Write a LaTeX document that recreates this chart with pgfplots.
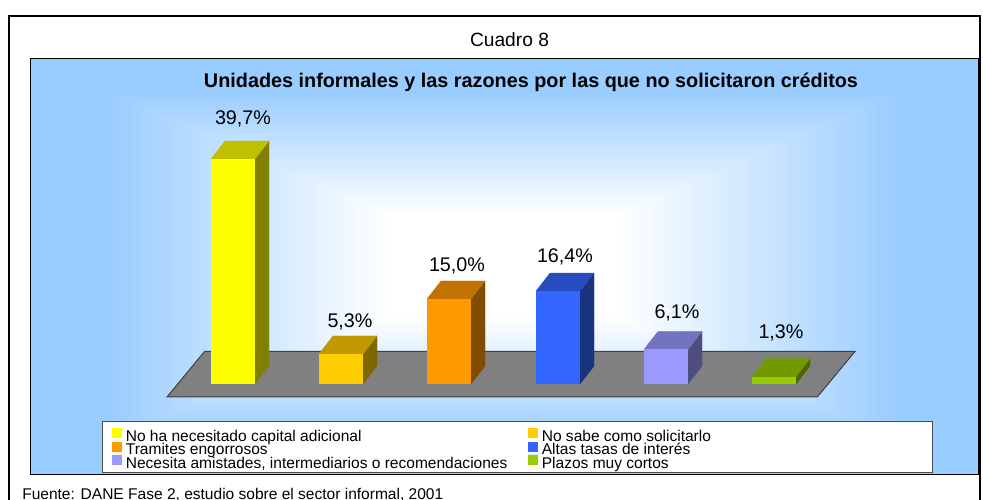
\documentclass[border=0pt]{standalone}
\usepackage{fontspec}
\setmainfont{Liberation Sans}
\usepackage{pgfplots}
\pgfplotsset{compat=1.18}
\definecolor{bg}{HTML}{99CCFF}
\definecolor{cA}{HTML}{FFFF00}\definecolor{cAt}{HTML}{C0C000}\definecolor{cAs}{HTML}{808000}
\definecolor{cB}{HTML}{FFCC00}\definecolor{cBt}{HTML}{C09900}\definecolor{cBs}{HTML}{806600}
\definecolor{cC}{HTML}{FF9900}\definecolor{cCt}{HTML}{C07300}\definecolor{cCs}{HTML}{804D00}
\definecolor{cD}{HTML}{3366FF}\definecolor{cDt}{HTML}{264CBF}\definecolor{cDs}{HTML}{1A3380}
\definecolor{cE}{HTML}{9999FF}\definecolor{cEt}{HTML}{7373BF}\definecolor{cEs}{HTML}{4D4D80}
\definecolor{cF}{HTML}{99CC00}\definecolor{cFt}{HTML}{739900}\definecolor{cFs}{HTML}{4D6600}
\pgfplotsset{
  mybar/.style={ybar,bar shift=0pt,bar width=33pt,fill=#1,draw=none,
    legend image code/.code={\fill[#1,overlay] (0pt,1.73pt) rectangle (7.5pt,9.23pt);\path (0pt,0pt) rectangle (10.5pt,0pt);}},
  face/.style={fill=#1,draw=#1,line width=0.2pt,forget plot}
}
\newcommand{\fs}[1]{\fontsize{#1}{#1}\selectfont}
\newcommand{\lent}[2]{\raisebox{-0.82pt}[0pt][0pt]{\makebox[#1][l]{#2}}}
\begin{document}
\begin{tikzpicture}
\path[clip,use as bounding box] (0,0) rectangle (737.25pt,375pt);
\begin{scope}[x=0.75pt,y=-0.75pt,yshift=375pt]
  \fill[white] (0,0) rectangle (983,500);
  \foreach \i in {0,...,70}{
    \pgfmathsetmacro\t{1-\i/70}
    \pgfmathsetmacro\b{max(0,min(100,100*(\t-0.25)/0.6))}
    \pgfmathsetmacro\hx{473.5*\t}
    \pgfmathsetmacro\hy{208.5*\t}
    \fill[bg!\b!white] (504-\hx,266.5-\hy) rectangle (504+\hx,266.5+\hy);
  }
\end{scope}
\begin{axis}[
  at={(0pt,0pt)},anchor=south west,
  scale only axis,width=737.25pt,height=375pt,
  xmin=0,xmax=983,ymin=-20.468,ymax=67.755,
  hide axis,
  legend columns=2,
  legend style={at={(axis cs:102,-6.53)},anchor=north west,
    draw=black!70,line width=0.75pt,fill=white,
    inner xsep=7pt,inner ysep=3.6pt,
    /tikz/column sep=0pt,/tikz/row sep=0pt,
    nodes={inner sep=0pt,text height=10.35pt,text depth=0pt,anchor=base west},
    font=\fs{11.65pt}},
  legend cell align=left,
]
% floor
\addplot[fill=black!50,draw=black!75,line width=0.75pt,forget plot] coordinates {(204.5,5.735)(855,5.735)(817.3,-2.294)(167,-2.294)} --cycle;
% depth faces
\addplot[face=cAs] coordinates {(255,0)(269,3.176)(269,42.876)(255,39.7)} --cycle;
\addplot[face=cAt] coordinates {(211,39.7)(225,42.876)(269,42.876)(255,39.7)} --cycle;
\addplot[mybar=cA] coordinates {(233,39.7)};
\addlegendentry{\lent{301.5pt}{No ha necesitado capital adicional}}
\addplot[face=cBs] coordinates {(363,0)(377,3.176)(377,8.476)(363,5.3)} --cycle;
\addplot[face=cBt] coordinates {(319,5.3)(333,8.476)(377,8.476)(363,5.3)} --cycle;
\addplot[mybar=cB] coordinates {(341,5.3)};
\addlegendentry{\lent{286pt}{No sabe como solicitarlo}}
\addplot[face=cCs] coordinates {(471,0)(485,3.176)(485,18.176)(471,15.0)} --cycle;
\addplot[face=cCt] coordinates {(427,15.0)(441,18.176)(485,18.176)(471,15.0)} --cycle;
\addplot[mybar=cC] coordinates {(449,15.0)};
\addlegendentry{\lent{301.5pt}{Tramites engorrosos}}
\addplot[face=cDs] coordinates {(580,0)(594,3.176)(594,19.576)(580,16.4)} --cycle;
\addplot[face=cDt] coordinates {(536,16.4)(550,19.576)(594,19.576)(580,16.4)} --cycle;
\addplot[mybar=cD] coordinates {(558,16.4)};
\addlegendentry{\lent{286pt}{Altas tasas de interés}}
\addplot[face=cEs] coordinates {(688,0)(702,3.176)(702,9.276)(688,6.1)} --cycle;
\addplot[face=cEt] coordinates {(644,6.1)(658,9.276)(702,9.276)(688,6.1)} --cycle;
\addplot[mybar=cE] coordinates {(666,6.1)};
\addlegendentry{\lent{301.5pt}{Necesita amistades, intermediarios o recomendaciones}}
\addplot[face=cFs] coordinates {(796,0)(810,3.176)(810,4.476)(796,1.3)} --cycle;
\addplot[face=cFt] coordinates {(752,1.3)(766,4.476)(810,4.476)(796,1.3)} --cycle;
\addplot[mybar=cF] coordinates {(774,1.3)};
\addlegendentry{\lent{286pt}{Plazos muy cortos}}
\end{axis}
\begin{scope}[x=0.75pt,y=-0.75pt,yshift=375pt]
  \draw[black,line width=0.75pt] (30.5,58.5) rectangle (978,475);
  \draw[black,line width=1.5pt] (9,500) -- (9,16) -- (979.5,16) -- (979.5,500);
  \node[anchor=base,font=\fs{14.4pt}] at (509.5,46.5) {Cuadro 8};
  \node[anchor=base,font=\bfseries\fs{14.86pt}] at (531,87.5) {Unidades informales y las razones por las que no solicitaron créditos};
  \node[font=\fs{14.8pt}] at (243,119) {39,7\%};
  \node[font=\fs{14.8pt}] at (350,322) {5,3\%};
  \node[font=\fs{14.8pt}] at (457,266) {15,0\%};
  \node[font=\fs{14.8pt}] at (565,257) {16,4\%};
  \node[font=\fs{14.8pt}] at (677,313) {6,1\%};
  \node[font=\fs{14.8pt}] at (781,333) {1,3\%};
  \node[anchor=base west,inner sep=0pt,font=\fs{11.65pt}] at (22,499.5) {Fuente: DANE Fase 2, estudio sobre el sector informal, 2001};
\end{scope}
\end{tikzpicture}
\end{document}
